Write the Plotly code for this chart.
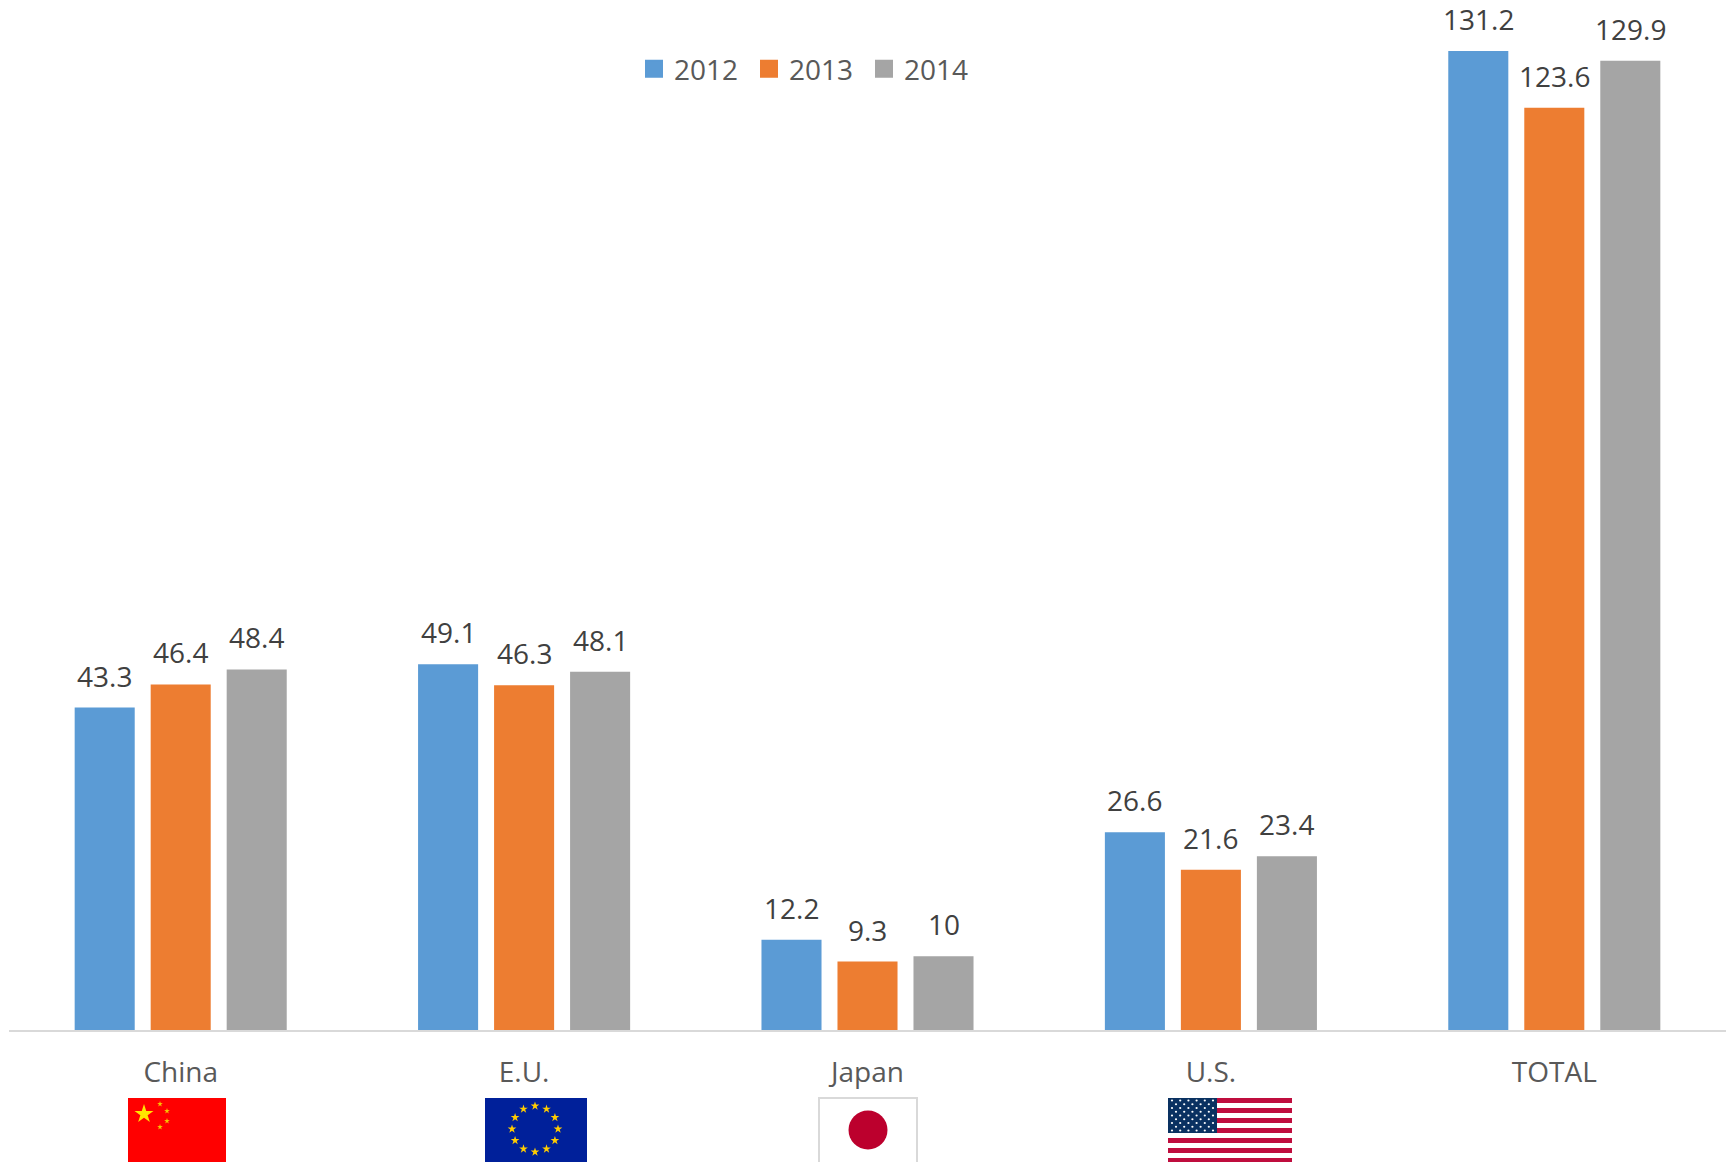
import base64, math
import plotly.graph_objects as go

categories = ["China", "E.U.", "Japan", "U.S.", "TOTAL"]
years = ["2012", "2013", "2014"]
values_2012 = [43.3, 49.1, 12.2, 26.6, 131.2]
values_2013 = [46.4, 46.3, 9.3, 21.6, 123.6]
values_2014 = [48.4, 48.1, 10, 23.4, 129.9]
colors = ["#5B9BD5", "#ED7D31", "#A5A5A5"]

W, H = 1728, 1162
ML, MR, MT, MB = 9, 2, 0, 131
PW, PH = W - ML - MR, H - MT - MB
PX_PER_UNIT = 7.47
FONT = "Open Sans, sans-serif"
FS = 28


def star(cx, cy, r, fill, rot=-90):
    pts = []
    for i in range(10):
        a = math.radians(rot + i * 36)
        rr = r if i % 2 == 0 else r * 0.382
        pts.append(f"{cx + rr * math.cos(a):.2f},{cy + rr * math.sin(a):.2f}")
    return f'<polygon points="{" ".join(pts)}" fill="{fill}"/>'


def uri(w, h, body):
    svg = f'<svg xmlns="http://www.w3.org/2000/svg" width="{w}" height="{h}" viewBox="0 0 {w} {h}">{body}</svg>'
    return "data:image/svg+xml;base64," + base64.b64encode(svg.encode()).decode()


def china():
    b = '<rect width="98" height="64" fill="#FF0000"/>' + star(16, 16, 10, "#FFE600")
    for x, y in [(32, 6), (39, 13), (39, 23), (32, 29)]:
        b += star(x, y, 3, "#F5C400")
    return uri(98, 64, b)


def eu():
    b = '<rect width="102" height="64" fill="#00209A"/>'
    for i in range(12):
        a = math.radians(i * 30)
        b += star(50 + 23 * math.sin(a), 31 - 23 * math.cos(a), 4.6, "#FFCC00")
    return uri(102, 64, b)


def japan():
    b = ('<rect x="1" y="1" width="98" height="70" fill="#FFFFFF" stroke="#D9D9D9" stroke-width="2"/>'
         '<circle cx="50" cy="33" r="19.5" fill="#BC002D"/>')
    return uri(100, 65, b)


def usa():
    b = '<rect width="124" height="64" fill="#FFFFFF"/>'
    for i in range(7):
        b += f'<rect y="{i * 10}" width="124" height="5" fill="#BF0D3E"/>'
    b += '<rect width="49" height="35" fill="#0A3161"/>'
    for r in range(9):
        n = 6 if r % 2 == 0 else 5
        x0 = 4 if r % 2 == 0 else 8
        for c in range(n):
            b += f'<circle cx="{x0 + c * 8.2:.1f}" cy="{2.5 + r * 3.75:.2f}" r="1.1" fill="#FFFFFF"/>'
    return uri(124, 64, b)


flags = [(china(), 128, 1098, 98, 64), (eu(), 485, 1098, 102, 64),
         (japan(), 818, 1097, 100, 65), (usa(), 1168, 1098, 124, 64)]
images = [dict(source=s, xref="paper", yref="paper", xanchor="left", yanchor="top",
               x=(x - ML) / PW, y=1 - (y - MT) / PH, sizex=w / PW, sizey=h / PH,
               sizing="stretch", layer="above")
          for s, x, y, w, h in flags]

series = [values_2012, values_2013, values_2014]
fig = go.Figure()
annotations = []
for i, (yr, vals, col) in enumerate(zip(years, series, colors)):
    fig.add_trace(go.Bar(name=yr, x=categories, y=vals, marker=dict(color=col, line_width=0),
                         showlegend=False, hoverinfo="x+y+name"))
    for cat, v in zip(categories, vals):
        annotations.append(dict(x=cat, y=v, text=str(v), showarrow=False, xanchor="center",
                                yanchor="bottom", xshift=(i - 1) * 76, yshift=11,
                                font=dict(family=FONT, size=FS, color="#404040")))
    # legend entry with the larger square swatch of the reference
    fig.add_trace(go.Scatter(name=yr, x=[None], y=[None], mode="markers",
                             marker=dict(symbol="square", size=16, color=col,
                                         line=dict(color=col, width=2)),
                             hoverinfo="skip"))

fig.update_layout(
    width=W, height=H, autosize=False,
    margin=dict(l=ML, r=MR, t=MT, b=MB, pad=0),
    paper_bgcolor="white", plot_bgcolor="white",
    barmode="group", bargap=0.336, bargroupgap=0.21,
    font=dict(family=FONT, size=FS, color="#595959"),
    annotations=annotations, images=images,
    legend=dict(orientation="h", x=(634 - ML) / PW, xanchor="left",
                y=1 - 44 / PH, yanchor="top", bgcolor="rgba(0,0,0,0)",
                entrywidth=70, entrywidthmode="pixels", itemsizing="trace",
                font=dict(family=FONT, size=FS, color="#595959")),
    xaxis=dict(type="category", categoryorder="array", categoryarray=categories,
               range=[-0.5, 4.5], showgrid=False, zeroline=False, showline=False,
               ticks="outside", ticklen=16, tickwidth=1, tickcolor="rgba(0,0,0,0)",
               tickfont=dict(family=FONT, size=FS, color="#595959")),
    yaxis=dict(range=[0, PH / PX_PER_UNIT], visible=False, fixedrange=True),
    shapes=[dict(type="line", xref="paper", yref="paper", x0=0, x1=1, y0=0, y1=0,
                 line=dict(color="#D9D9D9", width=2), layer="above")],
)
fig.write_html("out.html", config=dict(displayModeBar=False),
               post_script="document.body.style.margin='0';document.body.style.overflow='hidden';")
